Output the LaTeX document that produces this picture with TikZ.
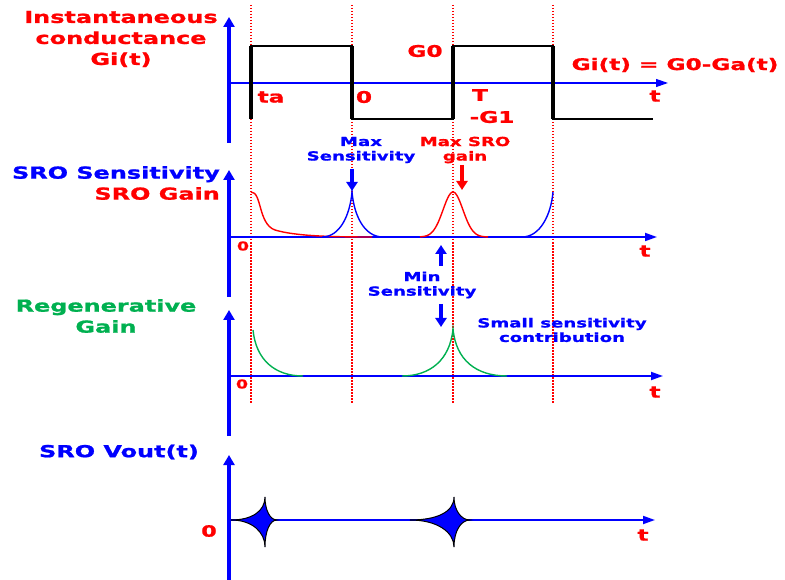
\documentclass[tikz,border=0pt]{standalone}
\usepackage{fontspec}
\setmainfont{DejaVu Sans}[FakeStretch=1.45, BoldFeatures={FakeBold=1.2}]
\usetikzlibrary{arrows.meta}
\definecolor{sig}{HTML}{FF0000}
\definecolor{ax}{HTML}{0000FF}
\definecolor{regen}{HTML}{00B050}

\begin{document}
\begin{tikzpicture}[
  x=1pt, y=-1pt, font=\bfseries,
  yaxis/.style={line width=3.2pt, color=ax, -{Triangle[length=10pt, width=11pt]}},
  taxis/.style={line width=1.8pt, color=ax, -{Triangle[length=12pt, width=8pt]}},
  cut/.style={draw=sig, line width=1.3pt, dash pattern=on 1.5pt off 1.5pt},
  wave/.style={draw=black, line width=2.2pt},
  edge/.style={draw=black, line width=3.4pt},
  ptr/.style={line width=3.6pt, -{Triangle[length=9pt, width=11pt]}},
  ttl/.style={font=\fontsize{16.5}{21}\selectfont\bfseries, align=center, inner sep=0pt},
  lbl/.style={font=\fontsize{16}{18}\selectfont\bfseries, text=sig, inner sep=0pt},
  note/.style={font=\fontsize{12.5}{14.5}\selectfont\bfseries, align=center, inner sep=0pt},
  zero/.style={font=\fontsize{12}{14}\selectfont\bfseries, text=sig, inner sep=0pt},
  burst/.style={fill=ax, draw=black, line width=1pt},
]
\useasboundingbox (0,0) rectangle (785,580);

% ---- time instants (dotted red markers) ----
\coordinate (ta top) at (251,5);   \coordinate (ta bot) at (251,403);
\coordinate (t0 top) at (352,5);   \coordinate (t0 bot) at (352,403);
\coordinate (tT top) at (453,5);   \coordinate (tT bot) at (453,403);
\coordinate (t2 top) at (553,5);   \coordinate (t2 bot) at (553,403);
\draw[cut] (ta top) -- (ta bot);
\draw[cut] (t0 top) -- (t0 bot);
\draw[cut] (tT top) -- (tT bot);
\draw[cut] (t2 top) -- (t2 bot);

% ---- panel 1: instantaneous conductance ----
\node[ttl, text=sig] (gTtl) at (121,39) {Instantaneous\\conductance\\Gi(t)};
\coordinate (o1) at (229,83);
\draw[yaxis] (229,143) -- (229,17);
\draw[taxis, line width=1.2pt] (o1) -- (668,83);
\draw[wave] (251,119) -- (251,46) -- (352,46) -- (352,119) -- (453,119)
  -- (453,46) -- (553,46) -- (553,119) -- (653,119);
\draw[edge] (251,119) -- (251,46);
\draw[edge] (352,46) -- (352,119);
\draw[edge] (453,119) -- (453,46);
\draw[edge] (553,46) -- (553,119);
\node[lbl] (lTa) at (271,97) {ta};
\node[lbl] (lZ1) at (364,97) {0};
\node[lbl] (lG0) at (425,51) {G0};
\node[lbl] (lT) at (480,95) {T};
\node[lbl] (lG1) at (492,117) {-G1};
\node[lbl] (lGi) at (675,65) {Gi(t) = G0-Ga(t)};
\node[lbl] (lt1) at (655,96) {t};

% ---- panel 2: SRO sensitivity / gain ----
\node[ttl, align=right, anchor=east] (sTtl) at (220,183)
  {\textcolor{ax}{SRO Sensitivity}\\\textcolor{sig}{SRO Gain}};
\coordinate (o2) at (229,237);
\draw[yaxis] (229,297) -- (229,170);
\draw[taxis] (o2) -- (657,237);
\node[zero] (lZ2) at (243,246) {0};
\node[lbl] (lt2) at (645,251) {t};
% gain (red)
\draw[sig, line width=1.4pt] (251,192) .. controls (262,192) and (258,224) .. (275,230)
  .. controls (295,236) and (330,237) .. (372,237);
\draw[sig, line width=1.4pt] plot[domain=420:488, samples=50] (\x, {237-45*exp(-((\x-453)/14)^2)});
% sensitivity (blue)
\draw[ax, line width=1.4pt] (322,237) .. controls (340,237) and (350,215) .. (352,192)
  .. controls (354,215) and (364,237) .. (383,237);
\draw[ax, line width=1.4pt] (522,237) .. controls (540,237) and (551,215) .. (553,192);
% pointers
\node[note, text=ax] (mxS) at (361,150) {Max\\Sensitivity};
\coordinate (mxS a) at (352,169); \coordinate (mxS b) at (352,191);
\draw[ptr, ax] (mxS a) -- (mxS b);
\node[note, text=sig] (mxG) at (465,150) {Max SRO\\gain};
\coordinate (mxG a) at (462,165); \coordinate (mxG b) at (462,190);
\draw[ptr, sig] (mxG a) -- (mxG b);
\node[note, text=ax] (mnS) at (422,285) {Min\\Sensitivity};
\coordinate (mnS a) at (441,266); \coordinate (mnS b) at (441,245);
\draw[ptr, ax] (mnS a) -- (mnS b);
\coordinate (mnS c) at (441,304); \coordinate (mnS d) at (441,327);
\draw[ptr, ax] (mnS c) -- (mnS d);

% ---- panel 3: regenerative gain ----
\node[ttl, text=regen] (rTtl) at (106,316) {Regenerative\\Gain};
\coordinate (o3) at (229,376);
\draw[yaxis] (229,436) -- (229,310);
\draw[taxis] (o3) -- (663,376);
\node[zero] (lZ3) at (242,384) {0};
\node[lbl] (lt3) at (655,392) {t};
\draw[regen, line width=1.4pt] (253,330) .. controls (256,360) and (275,376) .. (303,376);
\draw[regen, line width=1.4pt] (402,376) .. controls (430,376) and (450,360) .. (453,329)
  .. controls (456,360) and (476,376) .. (507,376);
\node[note, text=ax] (smS) at (562,330) {Small sensitivity\\contribution};

% ---- panel 4: SRO output ----
\node[ttl, text=ax] (vTtl) at (119,452) {SRO Vout(t)};
\coordinate (o4) at (229,520);
\draw[yaxis] (229,580) -- (229,455);
\draw[taxis] (o4) -- (655,520);
\node[lbl, font=\fontsize{15.5}{17}\selectfont\bfseries] (lZ4) at (209,531) {0};
\node[lbl] (lt4) at (643,535) {t};
\draw[burst] (231,520) .. controls (252,520) and (265,511) .. (265,497)
  .. controls (265,510) and (270,520) .. (277,520)
  .. controls (270,520) and (265,531) .. (265,547)
  .. controls (265,532) and (252,520) .. (231,520) -- cycle;
\draw[burst] (410,520) .. controls (437,520) and (454,512) .. (454,497)
  .. controls (454,510) and (461,520) .. (470,520)
  .. controls (461,520) and (454,531) .. (454,547)
  .. controls (454,532) and (437,520) .. (410,520) -- cycle;
\end{tikzpicture}
\end{document}
